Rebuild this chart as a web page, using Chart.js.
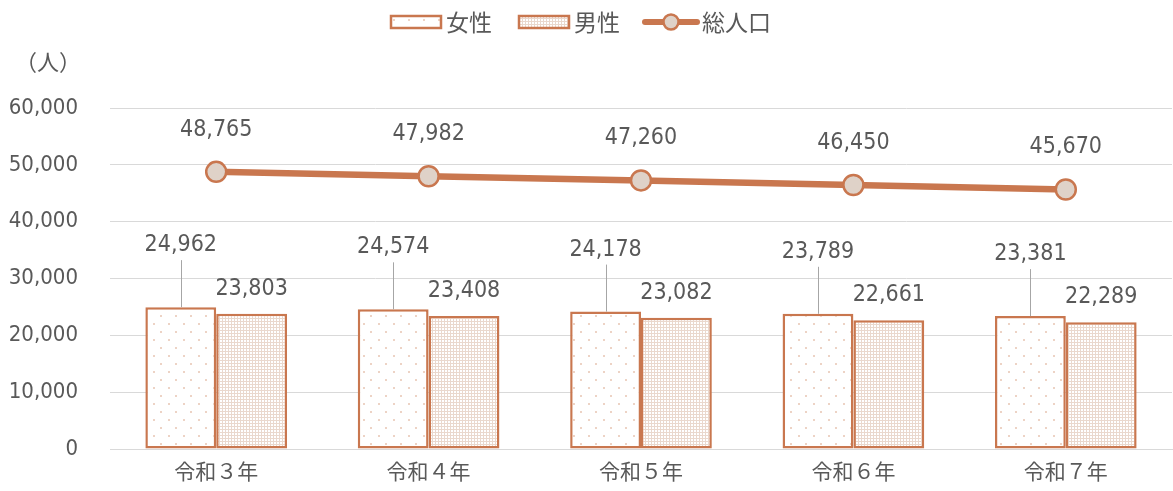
<!DOCTYPE html>
<html lang="ja">
<head>
<meta charset="utf-8">
<script src="https://cdn.jsdelivr.net/npm/chart.js@4/dist/chart.umd.min.js"></script>
<style>
  html, body { margin: 0; padding: 0; background: #ffffff; overflow: hidden; }
  #wrap { width: 1173px; height: 491px; position: relative; }
</style>
</head>
<body>
<div id="wrap"><canvas id="popChart"></canvas></div>
<script>
// data
const categories = ['令和３年', '令和４年', '令和５年', '令和６年', '令和７年'];
const femaleValues = [24962, 24574, 24178, 23789, 23381];
const maleValues = [23803, 23408, 23082, 22661, 22289];
const totalValues = [48765, 47982, 47260, 46450, 45670];
const yTickValues = [0, 10000, 20000, 30000, 40000, 50000, 60000];
const seriesNames = ['女性', '男性', '総人口'];
const unitLabel = '（人）';

const ORANGE = '#C9774F';
const POINT_FILL = '#DFD2C8';
const TEXT = '#595959';
const GRID = '#D9D9D9';
const NUM_FONT = "'DejaVu Sans Condensed', 'Noto Sans CJK JP', sans-serif";
const JP_FONT = "'Noto Sans CJK JP', sans-serif";

function fmt(v) {
    return v.toLocaleString('en-US');
}

// sparse dot pattern for 女性
function dotPattern() {
    const c = document.createElement('canvas');
    c.width = 15; c.height = 16;
    const g = c.getContext('2d');
    g.fillStyle = '#ffffff';
    g.fillRect(0, 0, 15, 16);
    g.fillStyle = '#EDD3C5';
    g.fillRect(3, 3, 2, 2);
    g.fillRect(10, 11, 2, 2);
    return g.createPattern(c, 'repeat');
}

// dense grid pattern for 男性
function gridPattern() {
    const c = document.createElement('canvas');
    c.width = 3; c.height = 3;
    const g = c.getContext('2d');
    g.fillStyle = '#EAD8CD';
    g.fillRect(0, 0, 3, 3);
    g.fillStyle = '#ffffff';
    g.fillRect(1, 1, 2, 2);
    return g.createPattern(c, 'repeat');
}

const femaleFill = dotPattern();
const maleFill = gridPattern();

// legend + unit label + value labels
const decorPlugin = {
    id: 'decor',
    afterDraw(chart) {
        const ctx = chart.ctx;
        ctx.save();

        // unit label
        ctx.fillStyle = TEXT;
        ctx.font = '22px ' + JP_FONT;
        ctx.textAlign = 'center';
        ctx.textBaseline = 'middle';
        ctx.fillText(unitLabel, 48, 62);

        // legend
        const ly = 22;
        ctx.font = '23px ' + JP_FONT;
        ctx.textAlign = 'left';
        ctx.lineWidth = 2.5;
        ctx.strokeStyle = ORANGE;
        ctx.fillStyle = femaleFill;
        ctx.fillRect(391, 16, 50, 12);
        ctx.strokeRect(391, 16, 50, 12);
        ctx.fillStyle = TEXT;
        ctx.fillText(seriesNames[0], 446, ly);

        ctx.fillStyle = maleFill;
        ctx.fillRect(519, 16, 50, 12);
        ctx.strokeRect(519, 16, 50, 12);
        ctx.fillStyle = TEXT;
        ctx.fillText(seriesNames[1], 574, ly);

        ctx.lineWidth = 6;
        ctx.lineCap = 'round';
        ctx.beginPath();
        ctx.moveTo(645, ly);
        ctx.lineTo(697, ly);
        ctx.stroke();
        ctx.beginPath();
        ctx.arc(671, ly, 7.5, 0, Math.PI * 2);
        ctx.fillStyle = POINT_FILL;
        ctx.fill();
        ctx.lineWidth = 2.5;
        ctx.stroke();
        ctx.fillStyle = TEXT;
        ctx.fillText(seriesNames[2], 702, ly);

        // value labels
        ctx.font = '23px ' + NUM_FONT;
        ctx.textAlign = 'center';
        ctx.textBaseline = 'middle';

        const fMeta = chart.getDatasetMeta(0);
        const mMeta = chart.getDatasetMeta(1);
        const tMeta = chart.getDatasetMeta(2);

        fMeta.data.forEach((bar, i) => {
            const labelY = bar.y - 62;
            ctx.strokeStyle = '#A6A6A6';
            ctx.lineWidth = 1;
            ctx.lineCap = 'butt';
            ctx.beginPath();
            ctx.moveTo(Math.round(bar.x) + 0.5, bar.y);
            ctx.lineTo(Math.round(bar.x) + 0.5, labelY + 15);
            ctx.stroke();
            ctx.fillStyle = TEXT;
            ctx.fillText(fmt(femaleValues[i]), bar.x, labelY);
        });
        mMeta.data.forEach((bar, i) => {
            ctx.fillStyle = TEXT;
            ctx.fillText(fmt(maleValues[i]), bar.x, bar.y - 25);
        });
        tMeta.data.forEach((pt, i) => {
            ctx.fillStyle = TEXT;
            ctx.fillText(fmt(totalValues[i]), pt.x, pt.y - 42);
        });

        ctx.restore();
    }
};

const ctx = document.getElementById('popChart').getContext('2d');
const chart = new Chart(ctx, {
    type: 'bar',
    data: {
        labels: categories,
        datasets: [
            {
                label: seriesNames[0],
                data: femaleValues,
                backgroundColor: femaleFill,
                borderColor: ORANGE,
                borderWidth: 2.5,
                borderSkipped: false,
                barPercentage: 1,
                categoryPercentage: 0.667,
                order: 1
            },
            {
                label: seriesNames[1],
                data: maleValues,
                backgroundColor: maleFill,
                borderColor: ORANGE,
                borderWidth: 2.5,
                borderSkipped: false,
                barPercentage: 1,
                categoryPercentage: 0.667,
                order: 1
            },
            {
                type: 'line',
                label: seriesNames[2],
                data: totalValues,
                borderColor: ORANGE,
                borderWidth: 6.5,
                pointRadius: 10,
                pointBorderWidth: 2.5,
                pointBackgroundColor: POINT_FILL,
                pointBorderColor: ORANGE,
                tension: 0,
                order: 0
            }
        ]
    },
    options: {
        responsive: true,
        maintainAspectRatio: false,
        animation: false,
        layout: { autoPadding: false, padding: { top: 108, right: 1, left: 0, bottom: 0 } },
        plugins: {
            legend: { display: false },
            tooltip: { enabled: false }
        },
        scales: {
            x: {
                grid: { display: false, drawTicks: false },
                border: { display: true, color: GRID, width: 1 },
                ticks: {
                    color: TEXT,
                    padding: 9,
                    font: { family: JP_FONT, size: 21 }
                },
                afterFit(scale) {
                    scale.height = 42;
                    scale.paddingLeft = 0;
                    scale.paddingRight = 0;
                }
            },
            y: {
                min: 0,
                max: 60000,
                afterBuildTicks(scale) {
                    scale.ticks = yTickValues.map(v => ({ value: v }));
                },
                grid: { color: GRID, drawTicks: false },
                border: { display: false },
                ticks: {
                    color: TEXT,
                    padding: 32,
                    font: { family: NUM_FONT, size: 22 },
                    callback: v => fmt(v)
                },
                afterFit(scale) {
                    scale.width = 110;
                    scale.paddingTop = 0;
                    scale.paddingBottom = 0;
                }
            }
        }
    },
    plugins: [decorPlugin]
});
</script>
</body>
</html>
